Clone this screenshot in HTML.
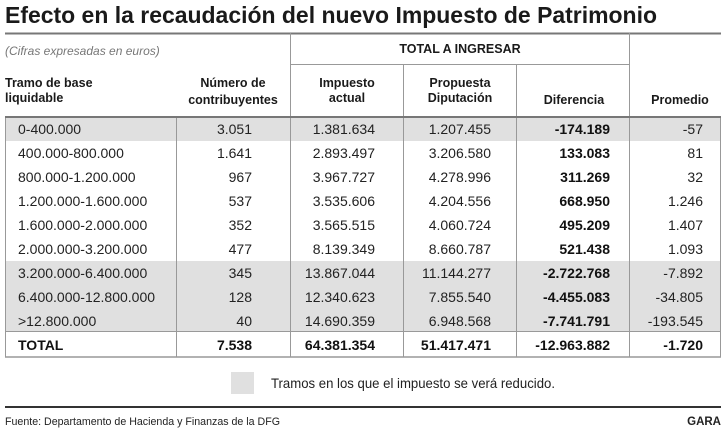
<!DOCTYPE html>
<html><head><meta charset="utf-8"><style>
html,body{margin:0;padding:0;background:#fff;}
svg{display:block;font-family:"Liberation Sans",sans-serif;}
</style></head><body>
<svg width="726" height="430" viewBox="0 0 726 430" xmlns="http://www.w3.org/2000/svg">
<rect width="726" height="430" fill="#fff"/>
<text x="5" y="23" font-size="23" font-weight="bold" fill="#1a1a1a" textLength="652" lengthAdjust="spacingAndGlyphs">Efecto en la recaudación del nuevo Impuesto de Patrimonio</text>
<line x1="5" y1="33.5" x2="721" y2="33.5" stroke="#777" stroke-width="2"/>
<rect x="5" y="117" width="716" height="24" fill="#e0e0e0"/>
<rect x="5" y="261" width="716" height="70" fill="#e0e0e0"/>
<line x1="290.5" y1="33" x2="290.5" y2="117" stroke="#999" stroke-width="1"/>
<line x1="629.5" y1="33" x2="629.5" y2="357" stroke="#999" stroke-width="1"/>
<line x1="290" y1="64.5" x2="629" y2="64.5" stroke="#999" stroke-width="1"/>
<line x1="403.5" y1="64" x2="403.5" y2="357" stroke="#999" stroke-width="1"/>
<line x1="516.5" y1="64" x2="516.5" y2="357" stroke="#999" stroke-width="1"/>
<line x1="290.5" y1="117" x2="290.5" y2="357" stroke="#999" stroke-width="1"/>
<line x1="176.5" y1="117" x2="176.5" y2="357" stroke="#999" stroke-width="1"/>
<line x1="5.5" y1="117" x2="5.5" y2="357" stroke="#999" stroke-width="1"/>
<line x1="720.5" y1="117" x2="720.5" y2="357" stroke="#999" stroke-width="1"/>
<line x1="5" y1="117" x2="721" y2="117" stroke="#777" stroke-width="2"/>
<line x1="5" y1="331.5" x2="721" y2="331.5" stroke="#999" stroke-width="1"/>
<line x1="5" y1="357" x2="721" y2="357" stroke="#999" stroke-width="1.5"/>
<text x="5" y="55" font-size="12" font-style="italic" fill="#777">(Cifras expresadas en euros)</text>
<g font-size="12.5" font-weight="bold" fill="#1a1a1a">
<text x="460" y="53" text-anchor="middle">TOTAL A INGRESAR</text>
<text x="5" y="87">Tramo de base</text>
<text x="5" y="102">liquidable</text>
<text x="233" y="87" text-anchor="middle">Número de</text>
<text x="233" y="104" text-anchor="middle">contribuyentes</text>
<text x="347" y="87" text-anchor="middle">Impuesto</text>
<text x="347" y="102" text-anchor="middle">actual</text>
<text x="460" y="87" text-anchor="middle">Propuesta</text>
<text x="460" y="102" text-anchor="middle">Diputación</text>
<text x="574" y="104" text-anchor="middle">Diferencia</text>
<text x="680" y="104" text-anchor="middle">Promedio</text>
</g>
<g font-size="14" fill="#222">
<g>
<text x="18" y="134">0-400.000</text>
<text x="18" y="158">400.000-800.000</text>
<text x="18" y="182">800.000-1.200.000</text>
<text x="18" y="206">1.200.000-1.600.000</text>
<text x="18" y="230">1.600.000-2.000.000</text>
<text x="18" y="254">2.000.000-3.200.000</text>
<text x="18" y="278">3.200.000-6.400.000</text>
<text x="18" y="302">6.400.000-12.800.000</text>
<text x="18" y="326">&gt;12.800.000</text>
</g>
<g text-anchor="end">
<text x="252" y="134">3.051</text><text x="375" y="134">1.381.634</text><text x="491" y="134">1.207.455</text><text x="703" y="134">-57</text>
<text x="252" y="158">1.641</text><text x="375" y="158">2.893.497</text><text x="491" y="158">3.206.580</text><text x="703" y="158">81</text>
<text x="252" y="182">967</text><text x="375" y="182">3.967.727</text><text x="491" y="182">4.278.996</text><text x="703" y="182">32</text>
<text x="252" y="206">537</text><text x="375" y="206">3.535.606</text><text x="491" y="206">4.204.556</text><text x="703" y="206">1.246</text>
<text x="252" y="230">352</text><text x="375" y="230">3.565.515</text><text x="491" y="230">4.060.724</text><text x="703" y="230">1.407</text>
<text x="252" y="254">477</text><text x="375" y="254">8.139.349</text><text x="491" y="254">8.660.787</text><text x="703" y="254">1.093</text>
<text x="252" y="278">345</text><text x="375" y="278">13.867.044</text><text x="491" y="278">11.144.277</text><text x="703" y="278">-7.892</text>
<text x="252" y="302">128</text><text x="375" y="302">12.340.623</text><text x="491" y="302">7.855.540</text><text x="703" y="302">-34.805</text>
<text x="252" y="326">40</text><text x="375" y="326">14.690.359</text><text x="491" y="326">6.948.568</text><text x="703" y="326">-193.545</text>
</g>
<g text-anchor="end" font-weight="bold" fill="#111">
<text x="610" y="134">-174.189</text>
<text x="610" y="158">133.083</text>
<text x="610" y="182">311.269</text>
<text x="610" y="206">668.950</text>
<text x="610" y="230">495.209</text>
<text x="610" y="254">521.438</text>
<text x="610" y="278">-2.722.768</text>
<text x="610" y="302">-4.455.083</text>
<text x="610" y="326">-7.741.791</text>
</g>
<g font-weight="bold" fill="#111">
<text x="18" y="350">TOTAL</text>
<g text-anchor="end">
<text x="252" y="350">7.538</text><text x="375" y="350">64.381.354</text><text x="491" y="350">51.417.471</text><text x="610" y="350">-12.963.882</text><text x="703" y="350">-1.720</text>
</g>
</g>
</g>
<rect x="231" y="372" width="23" height="22" fill="#e0e0e0"/>
<text x="271" y="388" font-size="14" fill="#222" textLength="284" lengthAdjust="spacingAndGlyphs">Tramos en los que el impuesto se verá reducido.</text>
<line x1="5" y1="407" x2="721" y2="407" stroke="#333" stroke-width="2"/>
<text x="5" y="425" font-size="11" fill="#222" textLength="275" lengthAdjust="spacingAndGlyphs">Fuente: Departamento de Hacienda y Finanzas de la DFG</text>
<text x="721" y="425" font-size="11.5" font-weight="bold" fill="#222" text-anchor="end">GARA</text>
</svg>
</body></html>
